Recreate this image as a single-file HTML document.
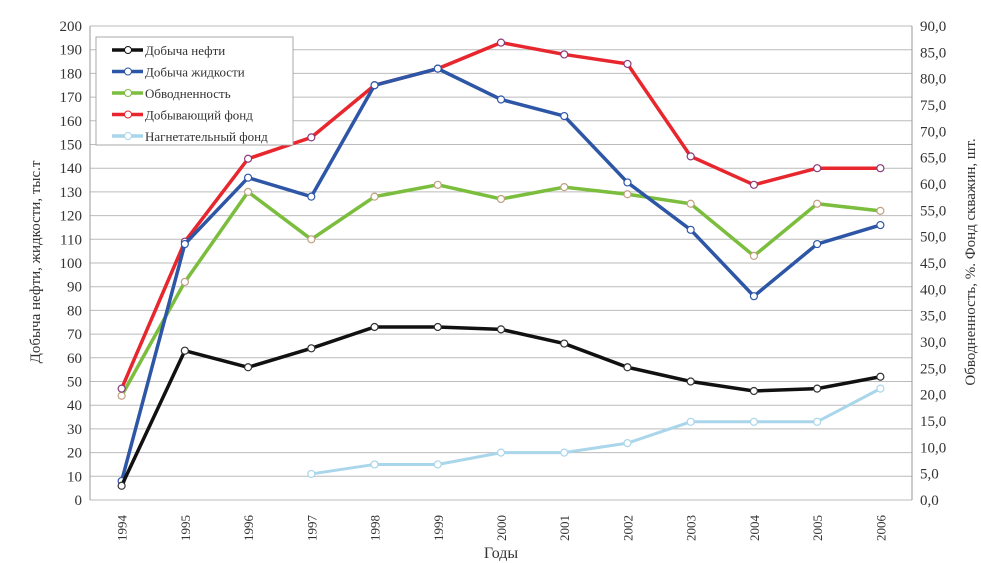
<!DOCTYPE html>
<html><head><meta charset="utf-8"><style>body{margin:0;background:#fff}svg{display:block}text{font-family:"Liberation Serif",serif;fill:#333}</style></head><body>
<svg id="s" width="981" height="563" viewBox="0 0 981 563" xmlns="http://www.w3.org/2000/svg"></svg>
<script>
const s=document.getElementById('s');let h='';
const X0=90,X1=912,Y0=500,K=2.37;
const xs=i=>X0+(X1-X0)/13*(i+0.5);const ys=v=>Y0-v*K;
for(let v=0;v<=200;v+=10){const y=ys(v);h+=`<line x1="${X0}" x2="${X1}" y1="${y}" y2="${y}" stroke="#bbb" stroke-width="1"/>`;
h+=`<text x="${X0-8}" y="${y+5}" font-size="15" text-anchor="end">${v}</text>`;}
for(let i=0;i<=18;i++){const v=i*5;h+=`<text x="${X1+8}" y="${ys(v*200/90)+5}" font-size="15">${v.toFixed(1).replace('.',',')}</text>`;}
h+=`<line x1="${X0}" x2="${X0}" y1="${ys(200)}" y2="${Y0}" stroke="#999"/><line x1="${X1}" x2="${X1}" y1="${ys(200)}" y2="${Y0}" stroke="#999"/>`;
for(let i=0;i<13;i++){const x=xs(i);h+=`<text transform="translate(${x+5},541) rotate(-90)" font-size="13">${1994+i}</text>`;}
h+=`<text x="501" y="558" font-size="16" text-anchor="middle">Годы</text>`;
h+=`<text transform="translate(40,262) rotate(-90)" font-size="15" text-anchor="middle">Добыча нефти, жидкости, тыс.т</text>`;
h+=`<text transform="translate(975,262) rotate(-90)" font-size="15" text-anchor="middle">Обводненность, %. Фонд скважин, шт.</text>`;
const S=[
["#a9d6ea",3,[null,null,null,11,15,15,20,20,24,33,33,33,47]],
["#7bbd3c",3.5,[44,92,130,110,128,133,127,132,129,125,103,125,122]],
["#e8262d",3.5,[47,109,144,153,175,182,193,188,184,145,133,140,140]],
["#2e56a6",3.5,[8,108,136,128,175,182,169,162,134,114,86,108,116]],
["#111",3.5,[6,63,56,64,73,73,72,66,56,50,46,47,52]]];
for(const [c,w,d] of S){let p=[];d.forEach((v,i)=>{if(v!=null)p.push(xs(i)+','+ys(v))});
h+=`<polyline points="${p.join(' ')}" fill="none" stroke="${c}" stroke-width="${w}"/>`;
d.forEach((v,i)=>{if(v!=null)h+=`<circle cx="${xs(i)}" cy="${ys(v)}" r="3.5" fill="#fff" stroke="${c=="#7bbd3c"?"#c0a080":(c=="#e8262d"?"#8a3a7a":(c=="#111"?"#333":c))}" stroke-width="1.2"/>`});}
h+=`<rect x="96" y="37" width="197" height="108" fill="#fff" stroke="#aaa"/>`;
const L=[["#111","Добыча нефти"],["#2e56a6","Добыча жидкости"],["#7bbd3c","Обводненность"],["#e8262d","Добывающий фонд"],["#a9d6ea","Нагнетательный фонд"]];
L.forEach(([c,t],i)=>{const y=50+i*21.5;h+=`<line x1="112" x2="143" y1="${y}" y2="${y}" stroke="${c}" stroke-width="3.5"/><circle cx="128" cy="${y}" r="3.5" fill="#fff" stroke="${c}"/><text x="145" y="${y+5}" font-size="13">${t}</text>`;});
s.innerHTML=h;
</script>
</body></html>
